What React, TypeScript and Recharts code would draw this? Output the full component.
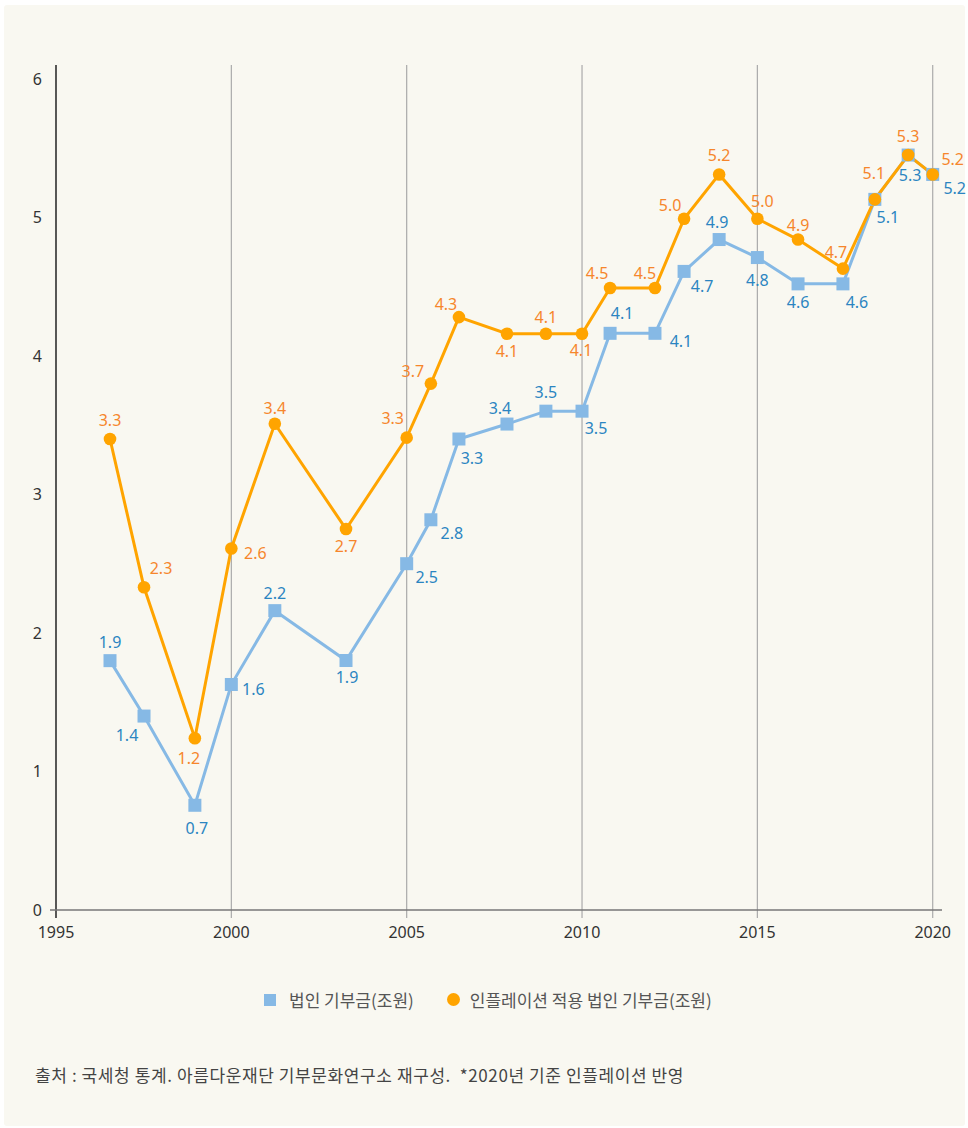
import React from 'react';
import { LineChart, Line, XAxis, YAxis, ReferenceLine, LabelList, Legend } from 'recharts';

// x positions (years, as placed on the axis)
const years = [1996.54, 1997.51, 1998.96, 2000.0, 2001.24, 2003.27, 2005.0, 2005.69, 2006.49, 2007.86, 2008.97, 2010.0, 2010.8, 2012.08, 2012.91, 2013.91, 2015.0, 2016.16, 2017.44, 2018.35, 2019.3, 2020.0];

// 법인 기부금(조원)
const corpDonation = [1.8, 1.4, 0.756, 1.628, 2.161, 1.801, 2.5, 2.817, 3.4, 3.508, 3.601, 3.601, 4.163, 4.163, 4.61, 4.84, 4.71, 4.52, 4.52, 5.13, 5.45, 5.31];
const corpDonationLabels = ['1.9', '1.4', '0.7', '1.6', '2.2', '1.9', '2.5', '2.8', '3.3', '3.4', '3.5', '3.5', '4.1', '4.1', '4.7', '4.9', '4.8', '4.6', '4.6', '5.1', '5.3', '5.2'];

// 인플레이션 적용 법인 기부금(조원)
const inflationAdjusted = [3.4, 2.33, 1.24, 2.61, 3.51, 2.75, 3.41, 3.8, 4.28, 4.16, 4.16, 4.16, 4.49, 4.49, 4.99, 5.31, 4.99, 4.84, 4.63, 5.13, 5.45, 5.31];
const inflationAdjustedLabels = ['3.3', '2.3', '1.2', '2.6', '3.4', '2.7', '3.3', '3.7', '4.3', '4.1', '4.1', '4.1', '4.5', '4.5', '5.0', '5.2', '5.0', '4.9', '4.7', '5.1', '5.3', '5.2'];

const xTicks = [1995, 2000, 2005, 2010, 2015, 2020];
const yTicks = [0, 1, 2, 3, 4, 5, 6];

const seriesNames = ['법인 기부금(조원)', '인플레이션 적용 법인 기부금(조원)'];
const sourceText = '출처 : 국세청 통계. 아름다운재단 기부문화연구소 재구성.  *2020년 기준 인플레이션 반영';

// label offsets (style only)
const blueLabelOffsets: [number, number][] = [
  [0, -19], [-17, 19], [2, 23], [22, 5], [0, -18], [1, 16], [20, 13], [21, 13], [13, 19], [-7, -16], [0, -19],
  [14, 17], [12, -20], [26, 8], [18, 15], [-2, -18], [0, 22], [0, 18], [14, 18], [13, 18], [2, 20], [22, 14],
];
const orangeLabelOffsets: [number, number][] = [
  [0, -19], [17, -19], [-6, 20], [24, 5], [0, -16], [0, 17], [-14, -20], [-18, -13], [-13, -13], [0, 17], [0, -17],
  [-1, 16], [-13, -15], [-10, -15], [-14, -14], [0, -19], [5, -18], [0, -15], [-7, -17], [-1, -26], [0, -19], [20, -15],
];

const data = years.map((year, i) => ({
  year,
  corp: corpDonation[i],
  corpLabel: corpDonationLabels[i],
  infl: inflationAdjusted[i],
  inflLabel: inflationAdjustedLabels[i],
}));

const BLUE = '#86b9e5';
const BLUE_TEXT = '#2b85c1';
const ORANGE = '#ffa400';
const ORANGE_TEXT = '#f6862c';
const FONT = '"Noto Sans", "Open Sans", sans-serif';
const KFONT = '"Noto Sans CJK KR", "Noto Sans", sans-serif';

const SquareDot = (props: any) => {
  const { cx, cy, index } = props;
  if (cx == null || cy == null) return <g key={`sq-${index}`} />;
  return <rect key={`sq-${index}`} x={cx - 6.5} y={cy - 6.5} width={13} height={13} fill={BLUE} />;
};

const CircleDot = (props: any) => {
  const { cx, cy, index } = props;
  if (cx == null || cy == null) return <g key={`ci-${index}`} />;
  return <circle key={`ci-${index}`} cx={cx} cy={cy} r={6.3} fill={ORANGE} />;
};

const makeLabel = (offsets: [number, number][], color: string) => (props: any) => {
  const { x, y, index, value } = props;
  const off = offsets[index] || [0, -18];
  return (
    <text
      key={`lb-${color}-${index}`}
      x={x + off[0]}
      y={y + off[1]}
      textAnchor="middle"
      dominantBaseline="central"
      fill={color}
      fontSize={16}
      fontFamily={FONT}
    >
      {value}
    </text>
  );
};

const LegendContent = () => (
  <div style={{ display: 'flex', alignItems: 'center', fontFamily: KFONT, fontSize: 17, color: '#555', paddingLeft: 264 }}>
    <span style={{ display: 'inline-block', width: 12, height: 12, background: BLUE, marginRight: 13 }} />
    <span style={{ marginRight: 33 }}>{seriesNames[0]}</span>
    <span style={{ display: 'inline-block', width: 13, height: 13, borderRadius: '50%', background: ORANGE, marginRight: 10 }} />
    <span>{seriesNames[1]}</span>
  </div>
);

export default function App() {
  return (
    <div style={{ position: 'absolute', left: 0, top: 0, width: 968, height: 1128, background: '#ffffff' }}>
      <div style={{ position: 'absolute', left: 4, top: 5, width: 961, height: 1121, background: '#f9f8f1', borderRadius: 3 }} />
      <div style={{ position: 'absolute', left: 0, top: 0 }}>
        <LineChart
          width={968}
          height={1128}
          data={data}
          margin={{ top: 65, right: 26, left: 0, bottom: 178 }}
        >
          <XAxis
            dataKey="year"
            type="number"
            domain={[1994.829, 2020.265]}
            ticks={xTicks}
            interval={0}
            allowDataOverflow
            height={40}
            tickSize={8}
            tickMargin={9}
            axisLine={{ stroke: '#777777', strokeWidth: 1.5 }}
            tickLine={false}
            tick={{ fill: '#333333', fontSize: 16, fontFamily: FONT }}
          />
          <YAxis
            type="number"
            domain={[0, 6.1]}
            ticks={yTicks}
            interval={0}
            allowDataOverflow
            width={50}
            axisLine={false}
            tickLine={false}
            tick={{ fill: '#333333', fontSize: 16, fontFamily: FONT }}
          />
          {xTicks.map((t) => (
            <ReferenceLine
              key={`grid-${t}`}
              segment={[{ x: t, y: -0.058 }, { x: t, y: 6.1 }]}
              stroke={t === xTicks[0] ? '#222222' : '#aaaaaa'}
              strokeWidth={t === xTicks[0] ? 1.5 : 1.2}
              ifOverflow="visible"
            />
          ))}
          <Legend
            layout="horizontal"
            verticalAlign="middle"
            align="center"
            wrapperStyle={{ top: 987, left: 0, width: 968, height: 24 }}
            content={<LegendContent />}
          />
          <Line
            type="linear"
            dataKey="corp"
            name={seriesNames[0]}
            stroke={BLUE}
            strokeWidth={3}
            dot={<SquareDot />}
            activeDot={false}
            isAnimationActive={false}
          >
            <LabelList dataKey="corpLabel" content={makeLabel(blueLabelOffsets, BLUE_TEXT)} />
          </Line>
          <Line
            type="linear"
            dataKey="infl"
            name={seriesNames[1]}
            stroke={ORANGE}
            strokeWidth={3}
            dot={<CircleDot />}
            activeDot={false}
            isAnimationActive={false}
          >
            <LabelList dataKey="inflLabel" content={makeLabel(orangeLabelOffsets, ORANGE_TEXT)} />
          </Line>
        </LineChart>
      </div>
      <div
        style={{
          position: 'absolute',
          left: 35,
          top: 1063,
          fontFamily: KFONT,
          fontSize: 17,
          letterSpacing: 0.6,
          color: '#444',
          whiteSpace: 'pre',
          lineHeight: '24px',
        }}
      >
        {sourceText}
      </div>
    </div>
  );
}
